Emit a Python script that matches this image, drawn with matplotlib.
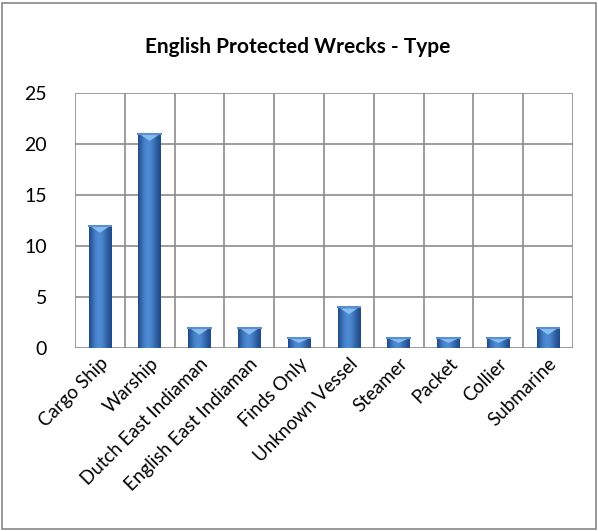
import matplotlib.pyplot as plt
from matplotlib.patches import Rectangle
import numpy as np

# chart data
types = ["Cargo Ship", "Warship", "Dutch East Indiaman", "English East Indiaman",
         "Finds Only", "Unknown Vessel", "Steamer", "Packet", "Collier", "Submarine"]
counts = [12, 21, 2, 2, 1, 4, 1, 1, 1, 2]
y_ticks = [0, 5, 10, 15, 20, 25]

plt.rcParams['font.family'] = ['Lato', 'DejaVu Sans']

fig = plt.figure(figsize=(5.98, 5.31), dpi=100)
ax = fig.add_axes([75 / 598, 1 - 348 / 531, 498 / 598, 255 / 531])

x = np.arange(len(types))
bars = ax.bar(x, counts, width=0.45, color='#2e64ad', zorder=3)

# horizontal shading across each bar to get the cylinder look
shade = np.array([0.0, 0.4, 0.75, 0.9, 0.8, 0.5, 0.2, 0.0])
grad = np.linspace(0, 1, 64)
prof = np.interp(grad, np.linspace(0, 1, len(shade)), shade)
dark = np.array([0.12, 0.29, 0.54])
light = np.array([0.33, 0.58, 0.87])
img = dark[None, :] + prof[:, None] * (light - dark)[None, :]
img = img[None, :, :]
for b in bars:
    x0, w, h = b.get_x(), b.get_width(), b.get_height()
    im = ax.imshow(img, extent=[x0, x0 + w, 0, h], aspect='auto', zorder=4,
                   interpolation='bilinear')
    im.set_clip_path(b)
    # light cap on top
    cap = min(0.7, h * 0.5)
    ax.fill([x0 + 0.05, x0 + w - 0.05, x0 + w / 2], [h - 0.12, h - 0.12, h - cap],
            color='#86bdf0', zorder=5, lw=0)
    ax.plot([x0, x0 + w], [h, h], color='#5b8fd0', lw=1.5, zorder=6)

ax.set_xlim(-0.5, len(types) - 0.5)
ax.set_ylim(0, 25)
ax.set_yticks(y_ticks)
ax.set_xticks(x)
ax.set_xticklabels(types, rotation=45, ha='right', rotation_mode='anchor', fontsize=13.5)
ax.tick_params(axis='y', labelsize=14, length=0, pad=20)
ax.tick_params(axis='x', length=0, pad=5)

# gridlines: horizontal at ticks, vertical between categories
for yv in y_ticks:
    ax.axhline(yv, color='#8c8c8c', lw=1.2, zorder=1)
for xv in np.arange(-0.5, len(types), 1.0):
    ax.axvline(xv, color='#8c8c8c', lw=1.2, zorder=1)
for s in ax.spines.values():
    s.set_visible(False)

fig.text(298 / 598, 1 - 47 / 531, "English Protected Wrecks - Type",
         ha='center', va='center', fontsize=15, fontweight='bold')

# outer chart border
fig.patches.append(Rectangle((2 / 598, 2 / 531), 594 / 598, 526 / 531,
                             transform=fig.transFigure, fill=False,
                             edgecolor='#868686', lw=1.2))

fig.savefig("out.png", dpi=100)
